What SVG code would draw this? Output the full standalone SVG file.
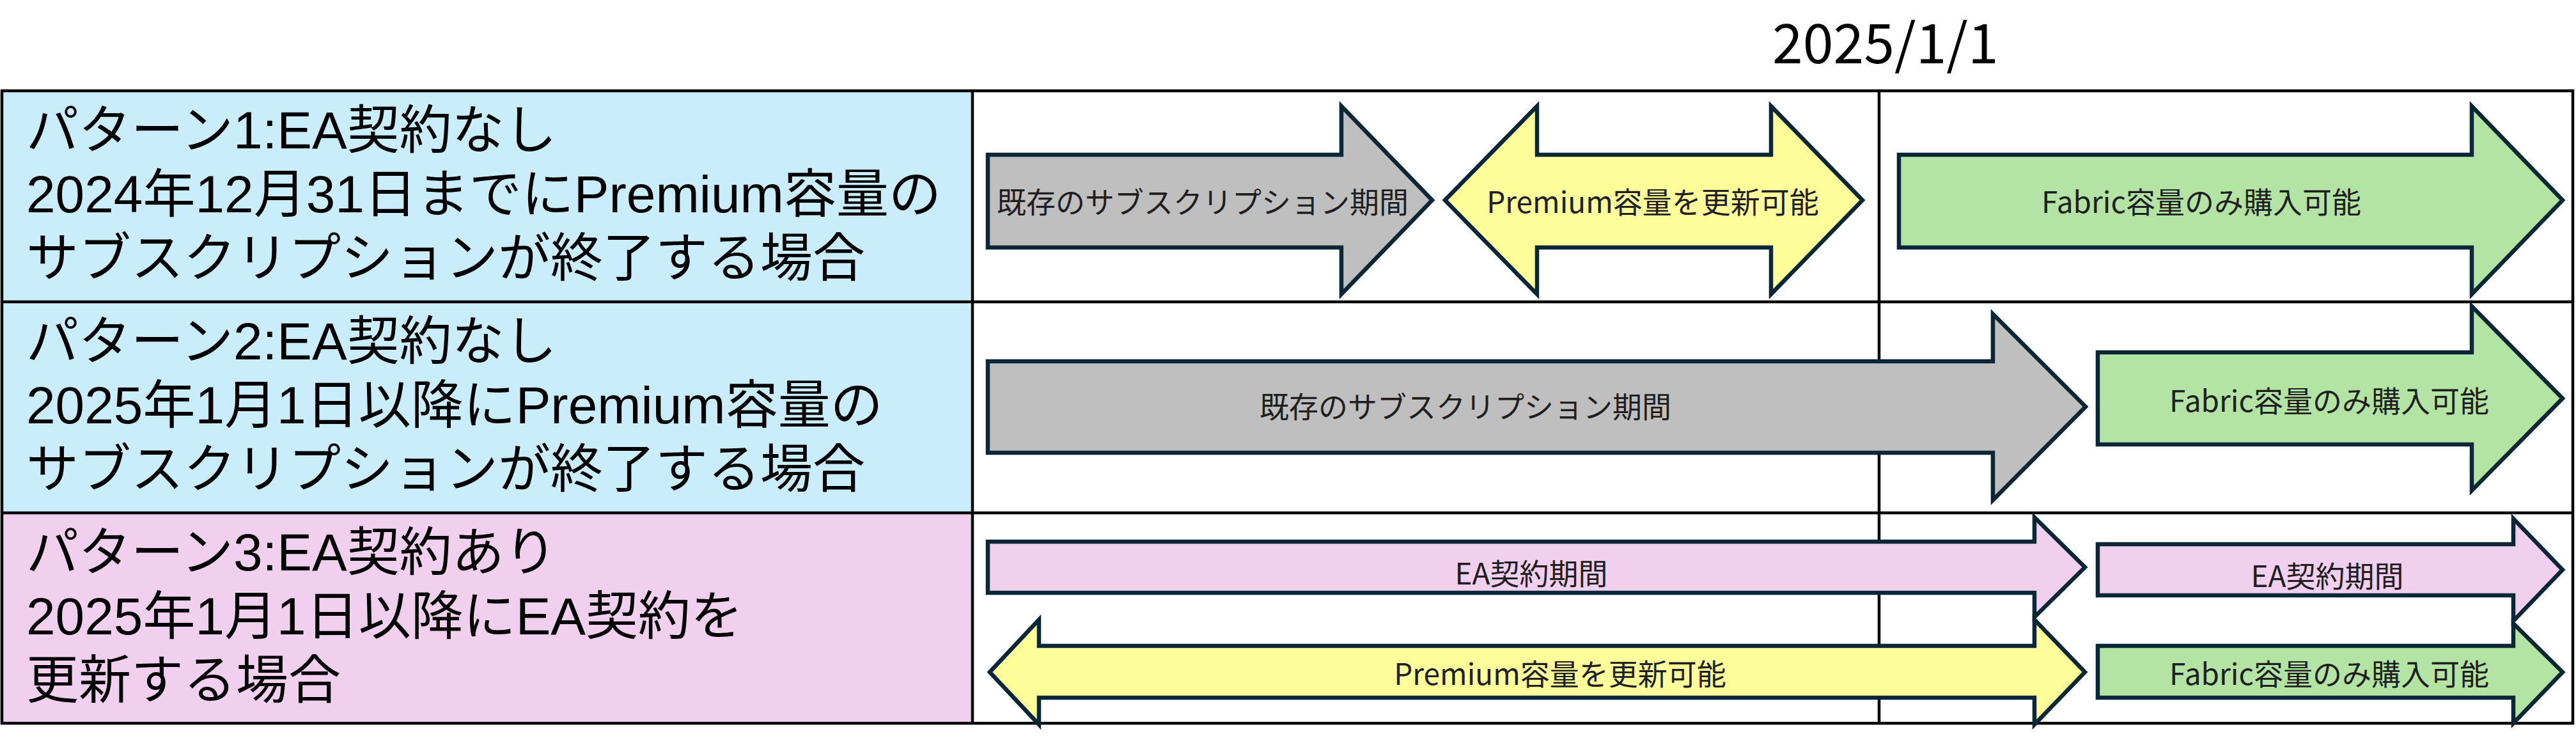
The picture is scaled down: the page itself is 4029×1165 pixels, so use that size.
<svg xmlns="http://www.w3.org/2000/svg" width="4029" height="1165" viewBox="0 0 4029 1165">
<style>
  text { font-family: "Noto Sans CJK JP", "Noto Sans", sans-serif; }
  .hdr { font-family: "Liberation Sans", "Noto Sans CJK JP", sans-serif; font-size: 82px; fill: #000; }
  .lbl { font-size: 46px; fill: #1f1f1f; text-anchor: middle; dominant-baseline: central; }
  .date { font-size: 86px; fill: #000; }
  .grid { stroke: #000; stroke-width: 4.5; fill: none; }
  .arr { stroke: #0b2737; stroke-width: 6.5; stroke-linejoin: miter; stroke-miterlimit: 10; }
  .gray { fill: #bfbfbf; }
  .yellow { fill: #fdfd99; }
  .green { fill: #b4e4a4; }
  .pink { fill: #f1cfee; }
</style>
<rect width="4029" height="1165" fill="#fff"/>
<g id="table">
  <rect x="3" y="142" width="1518" height="660" fill="#caedfc"/>
  <rect x="3" y="802" width="1518" height="329" fill="#f1cfee"/>
  <rect class="grid" x="3" y="142" width="4021" height="989"/>
  <line class="grid" x1="3" y1="472" x2="4024" y2="472"/>
  <line class="grid" x1="3" y1="802" x2="4024" y2="802"/>
  <line class="grid" x1="1521" y1="142" x2="1521" y2="1131"/>
  <line class="grid" x1="2939" y1="142" x2="2939" y2="1131"/>
</g>
<g id="date-label">
  <text class="date" x="2772" y="99">2025/1/1</text>
</g>
<g id="pattern1">
  <text class="hdr" x="41" y="232"><tspan x="41" y="232">パターン1:EA契約なし</tspan><tspan x="41" y="332">2024年12月31日までにPremium容量の</tspan><tspan x="41" y="432">サブスクリプションが終了する場合</tspan></text>
</g>
<g id="pattern2">
  <text class="hdr" x="41" y="562"><tspan x="41" y="562">パターン2:EA契約なし</tspan><tspan x="41" y="662">2025年1月1日以降にPremium容量の</tspan><tspan x="41" y="762">サブスクリプションが終了する場合</tspan></text>
</g>
<g id="pattern3">
  <text class="hdr" x="41" y="892"><tspan x="41" y="892">パターン3:EA契約あり</tspan><tspan x="41" y="992">2025年1月1日以降にEA契約を</tspan><tspan x="41" y="1092">更新する場合</tspan></text>
</g>
<g id="p1-existing">
  <path class="arr gray" d="M1545,242 H2098 V166 L2240,313 L2098,460 V387 H1545 Z"/>
  <text class="lbl" x="1881" y="313">既存のサブスクリプション期間</text>
</g>
<g id="p1-premium">
  <path class="arr yellow" d="M2260,313 L2404,166 V242 H2770 V166 L2913,313 L2770,460 V387 H2404 V460 Z"/>
  <text class="lbl" x="2585" y="313">Premium容量を更新可能</text>
</g>
<g id="p1-fabric">
  <path class="arr green" d="M2970,242 H3866 V166 L4008,313 L3866,460 V387 H2970 Z"/>
  <text class="lbl" x="3443" y="313">Fabric容量のみ購入可能</text>
</g>
<g id="p2-existing">
  <path class="arr gray" d="M1545,565 H3117 V491 L3262,636 L3117,782 V708 H1545 Z"/>
  <text class="lbl" x="2292" y="633">既存のサブスクリプション期間</text>
</g>
<g id="p2-fabric">
  <path class="arr green" d="M3281,551 H3866 V479 L4008,623 L3866,767 V695 H3281 Z"/>
  <text class="lbl" x="3643" y="624">Fabric容量のみ購入可能</text>
</g>
<g id="p3-ea1">
  <path class="arr pink" d="M1545,847 H3182 V809 L3261,887 L3182,965 V927 H1545 Z"/>
  <text class="lbl" x="2395" y="894">EA契約期間</text>
</g>
<g id="p3-ea2">
  <path class="arr pink" d="M3281,851 H3931 V811 L4008,891 L3931,971 V931 H3281 Z"/>
  <text class="lbl" x="3640" y="898">EA契約期間</text>
</g>
<g id="p3-premium">
  <path class="arr yellow" d="M1548,1051 L1625,969 V1010 H3182 V969 L3261,1051 L3182,1133 V1091 H1625 V1133 Z"/>
  <text class="lbl" x="2440" y="1051">Premium容量を更新可能</text>
</g>
<g id="p3-fabric">
  <path class="arr green" d="M3281,1010 H3931 V975 L4008,1051 L3931,1131 V1091 H3281 Z"/>
  <text class="lbl" x="3643" y="1051">Fabric容量のみ購入可能</text>
</g>
</svg>
